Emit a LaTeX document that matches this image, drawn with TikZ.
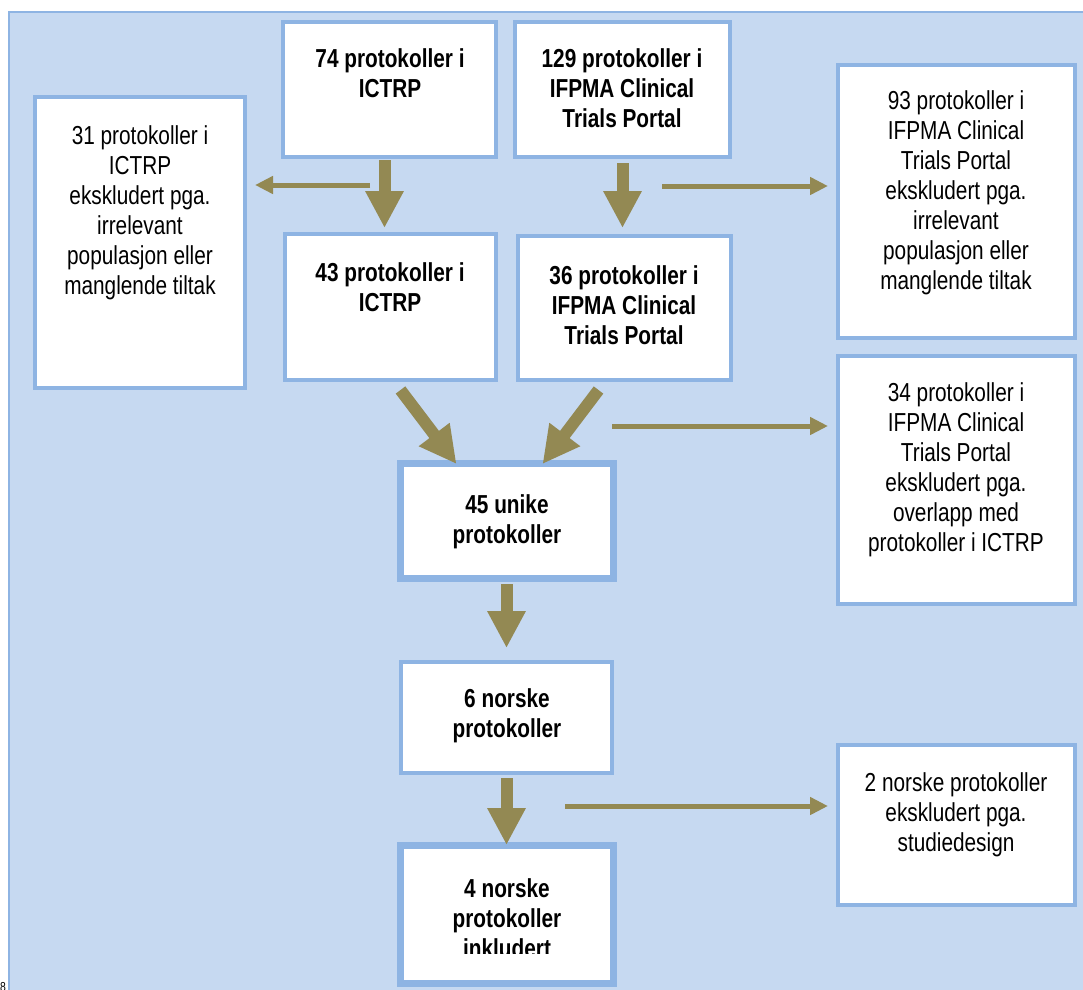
\documentclass[tikz,border=0pt]{standalone}
\usepackage{fontspec}
\setmainfont{Liberation Sans}[FakeStretch=0.8]
\usetikzlibrary{arrows.meta,calc}
\definecolor{bgfill}{HTML}{C6D9F1}
\definecolor{boxline}{HTML}{8EB4E3}
\definecolor{olive}{HTML}{938953}
\tikzset{
  box/.style={draw=boxline, fill=white, line width=4pt, inner sep=0pt, outer sep=0pt},
  thickbox/.style={box, line width=7pt},
  txt/.style={align=center, inner sep=0pt, font=\fontsize{26}{30}\selectfont},
  btxt/.style={txt, font=\fontsize{26}{30}\selectfont\bfseries},
  bigarrow/.style={draw=olive, line width=12pt, -{Triangle[width=36pt,length=37pt]}},
  smallarrow/.style={draw=olive, line width=5pt, -{Triangle[width=17pt,length=18pt]}},
}
\newcommand{\boxat}[6]{% style, name, x1,y1,x2,y2
  \node[#1, minimum width={#5-#3}, minimum height={#6-#4}] (#2) at ({(#3+#5)/2},{(#4+#6)/2}) {};}
\begin{document}
\begin{tikzpicture}[x=1pt,y=-1pt]
\clip (0,0) rectangle (1083,989);
\path[fill=bgfill, draw=boxline, line width=2pt] (9,12) rectangle (1100,1010);
\node[anchor=north west, inner sep=0pt, font=\fontsize{13}{14}\selectfont] (pg) at (0,982) {8};
% boxes (outer edges)
\boxat{box}{A}{283}{22}{496}{157}
\boxat{box}{B}{515}{22}{730}{157}
\boxat{box}{L1}{35}{97}{245}{388}
\boxat{box}{R1}{838}{65}{1075}{338}
\boxat{box}{C}{285}{234}{496}{380}
\boxat{box}{D}{518}{236}{731}{380}
\boxat{box}{R2}{838}{356}{1075}{604}
\boxat{thickbox}{E}{400}{463}{613}{578}
\boxat{box}{F}{401}{662}{612}{773}
\boxat{thickbox}{G}{400}{845}{613}{983}
\boxat{box}{R3}{838}{745}{1075}{905}
% texts
\node[btxt] (At) at (390,73) {74 protokoller i\\ICTRP};
\node[btxt] (Bt) at (622,88) {129 protokoller i\\IFPMA Clinical\\Trials Portal};
\node[txt] (L1t) at (140,213) {31 protokoller i\\ICTRP\\ekskludert pga.\\irrelevant\\populasjon eller\\manglende tiltak};
\node[txt] (R1t) at (956,193) {93 protokoller i\\IFPMA Clinical\\Trials Portal\\ekskludert pga.\\irrelevant\\populasjon eller\\manglende tiltak};
\node[btxt] (Ct) at (390,287) {43 protokoller i\\ICTRP};
\node[btxt] (Dt) at (624,305) {36 protokoller i\\IFPMA Clinical\\Trials Portal};
\node[txt] (R2t) at (956,470) {34 protokoller i\\IFPMA Clinical\\Trials Portal\\ekskludert pga.\\overlapp med\\protokoller i ICTRP};
\node[btxt] (Et) at (507,522) {45 unike\\protokoller};
\node[btxt] (Ft) at (507,716) {6 norske\\protokoller};
\begin{scope}
\clip (400,845) rectangle (613,953);
\node[btxt] (Gt) at (507,918) {4 norske\\protokoller\\inkludert};
\end{scope}
\node[txt] (R3t) at (956,815) {2 norske protokoller\\ekskludert pga.\\studiedesign};
% big arrows
\draw[bigarrow, shorten <=3pt, shorten >=6pt] ([xshift=-5pt]A.south) -- ([xshift=-5pt]A.south |- C.north);
\draw[bigarrow, shorten <=6pt, shorten >=8pt] (B.south) -- (B.south |- D.north);
\draw[bigarrow] ($(C.south)+(10,10)$) -- ($(E.north)+(-50,1)$);
\draw[bigarrow] ($(D.south)+(-26,10)$) -- ($(E.north)+(36,1)$);
\draw[bigarrow, shorten <=6pt, shorten >=14pt] (E.south) -- (E.south |- F.north);
\draw[bigarrow, shorten <=5pt] (F.south) -- (F.south |- G.north);
% small arrows
\coordinate (s1) at (370,185);
\coordinate (s2) at (662,186);
\coordinate (s3) at (612,426);
\coordinate (s4) at (565,806);
\draw[smallarrow, shorten >=10pt] (s1) -- (s1 -| L1.east);
\draw[smallarrow, shorten >=10pt] (s2) -- (s2 -| R1.west);
\draw[smallarrow, shorten >=10pt] (s3) -- (s3 -| R2.west);
\draw[smallarrow, shorten >=10pt] (s4) -- (s4 -| R3.west);
\end{tikzpicture}
\end{document}
